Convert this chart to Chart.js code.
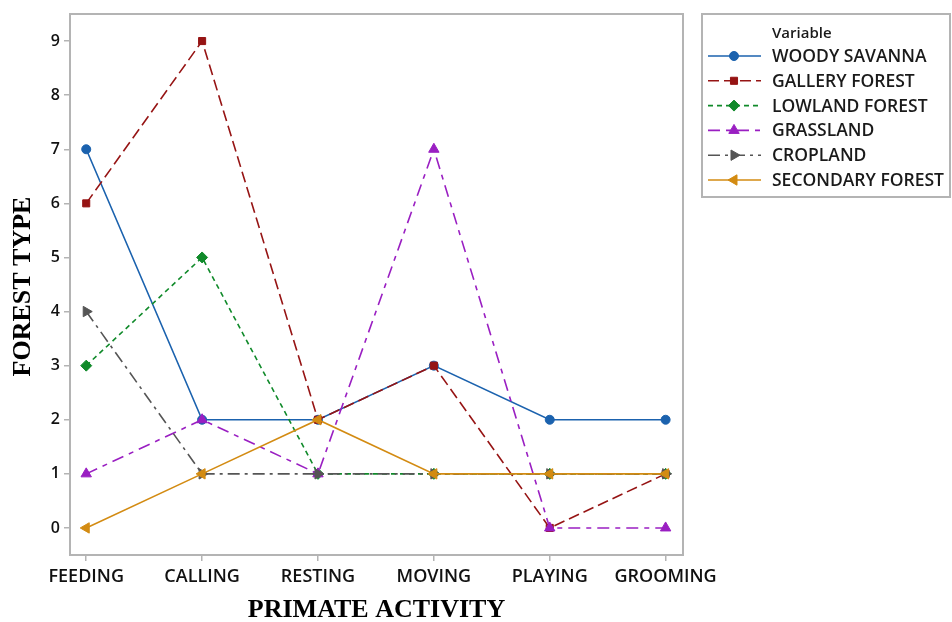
<!DOCTYPE html>
<html>
<head>
<meta charset="utf-8">
<script src="https://cdn.jsdelivr.net/npm/chart.js@4.4.1/dist/chart.umd.min.js"></script>
<style>
  html, body { margin: 0; padding: 0; background: #ffffff; }
  #wrap { width: 952px; height: 622px; position: relative; }
</style>
</head>
<body>
<div id="wrap"><canvas id="c" width="952" height="622"></canvas></div>
<script>
const categories = ["FEEDING", "CALLING", "RESTING", "MOVING", "PLAYING", "GROOMING"];
const yTicks = [0, 1, 2, 3, 4, 5, 6, 7, 8, 9];
const seriesNames = ["WOODY SAVANNA", "GALLERY FOREST", "LOWLAND FOREST", "GRASSLAND", "CROPLAND", "SECONDARY FOREST"];
const woodySavanna    = [7, 2, 2, 3, 2, 2];
const galleryForest   = [6, 9, 2, 3, 0, 1];
const lowlandForest   = [3, 5, 1, 1, 1, 1];
const grassland       = [1, 2, 1, 7, 0, 0];
const cropland        = [4, 1, 1, 1, 1, 1];
const secondaryForest = [0, 1, 2, 1, 1, 1];
const xTitle = "PRIMATE ACTIVITY";
const yTitle = "FOREST TYPE";
const legendTitle = "Variable";

const seriesValues = [woodySavanna, galleryForest, lowlandForest, grassland, cropland, secondaryForest];
const styles = [
  { color: "#1b62ae", dash: [], point: "circle", rot: 0, r: 4.5 },
  { color: "#961414", dash: [11, 5], point: "rect", rot: 0, r: 5 },
  { color: "#108a2a", dash: [5, 4], point: "rectRot", rot: 0, r: 5.5 },
  { color: "#9a1fc2", dash: [12, 6, 5, 6], point: "triangle", rot: 0, r: 6 },
  { color: "#555555", dash: [12, 5, 3, 5], point: "triangle", rot: 90, r: 6 },
  { color: "#d38b12", dash: [], point: "triangle", rot: -90, r: 6 }
];

const datasets = seriesNames.map((name, i) => ({
  label: name,
  data: seriesValues[i].map((v, j) => ({ x: j, y: v })),
  borderColor: styles[i].color,
  backgroundColor: styles[i].color,
  borderWidth: 1.6,
  borderDash: styles[i].dash,
  pointStyle: styles[i].point,
  pointRotation: styles[i].rot,
  pointRadius: styles[i].r,
  pointBorderWidth: 1,
  pointBackgroundColor: styles[i].color,
  pointBorderColor: styles[i].color,
  tension: 0,
  fill: false,
  order: seriesNames.length - i
}));

const frameColor = "#b4b4b4";
const textFont = "'Open Sans', 'DejaVu Sans', sans-serif";
const titleFont = "bold 26px 'Liberation Serif', 'Times New Roman', serif";

const framePlugin = {
  id: "frame",
  afterDraw(chart) {
    const ctx = chart.ctx;
    const a = chart.chartArea;
    ctx.save();
    ctx.strokeStyle = frameColor;
    ctx.lineWidth = 2;
    ctx.strokeRect(a.left, a.top, a.right - a.left, a.bottom - a.top);

    // axis titles
    ctx.fillStyle = "#000000";
    ctx.font = titleFont;
    ctx.textAlign = "center";
    ctx.textBaseline = "middle";
    ctx.fillText(xTitle, (a.left + a.right) / 2, 610);
    ctx.save();
    ctx.translate(23, (a.top + a.bottom) / 2 + 2);
    ctx.rotate(-Math.PI / 2);
    ctx.fillText(yTitle, 0, 0);
    ctx.restore();

    // legend
    const lx = 702, ly = 14, lw = 248, lh = 183;
    ctx.strokeStyle = frameColor;
    ctx.lineWidth = 2;
    ctx.strokeRect(lx, ly, lw, lh);
    ctx.fillStyle = "#1a1a1a";
    ctx.textAlign = "left";
    ctx.font = "600 15px " + textFont;
    ctx.fillText(legendTitle, 772, 34);
    ctx.font = "600 17.5px " + textFont;
    chart.data.datasets.forEach((ds, i) => {
      const y = 56 + i * 24.8;
      ctx.save();
      ctx.strokeStyle = ds.borderColor;
      ctx.lineWidth = 1.6;
      ctx.setLineDash(ds.borderDash);
      ctx.beginPath();
      ctx.moveTo(708, y);
      ctx.lineTo(761, y);
      ctx.stroke();
      ctx.setLineDash([]);
      ctx.fillStyle = ds.pointBackgroundColor;
      ctx.strokeStyle = ds.pointBorderColor;
      ctx.lineWidth = 1;
      Chart.helpers.drawPoint(ctx, {
        pointStyle: ds.pointStyle,
        rotation: ds.pointRotation,
        radius: ds.pointRadius,
        borderWidth: 1
      }, 734, y);
      ctx.restore();
      ctx.fillStyle = "#1a1a1a";
      ctx.fillText(ds.label, 772, y + 1);
    });
    ctx.restore();
  }
};

new Chart(document.getElementById("c"), {
  type: "line",
  data: { datasets },
  options: {
    responsive: false,
    animation: false,
    events: [],
    layout: { padding: { left: 0, top: 14, right: 269, bottom: 0 } },
    plugins: { legend: { display: false }, tooltip: { enabled: false } },
    scales: {
      x: {
        type: "linear",
        min: -0.14,
        max: 5.15,
        border: { display: false },
        grid: { display: true, drawOnChartArea: false, drawTicks: true, tickLength: 6, color: frameColor, lineWidth: 1.5 },
        afterBuildTicks: (s) => { s.ticks = categories.map((c, i) => ({ value: i })); },
        ticks: {
          autoSkip: false,
          maxRotation: 0,
          color: "#111111",
          font: { family: textFont, size: 18, weight: "600" },
          padding: 5,
          callback: (v) => categories[v] !== undefined ? categories[v] : ""
        },
        afterFit: (s) => { s.height = 67; }
      },
      y: {
        type: "linear",
        min: -0.5,
        max: 9.5,
        border: { display: false },
        grid: { display: true, drawOnChartArea: false, drawTicks: true, tickLength: 6, color: frameColor, lineWidth: 1.5 },
        afterBuildTicks: (s) => { s.ticks = yTicks.map(v => ({ value: v })); },
        ticks: {
          color: "#111111",
          font: { family: textFont, size: 16, weight: "600" },
          padding: 4,
          callback: (v) => String(v)
        },
        afterFit: (s) => { s.width = 70; }
      }
    }
  },
  plugins: [framePlugin]
});
</script>
</body>
</html>
